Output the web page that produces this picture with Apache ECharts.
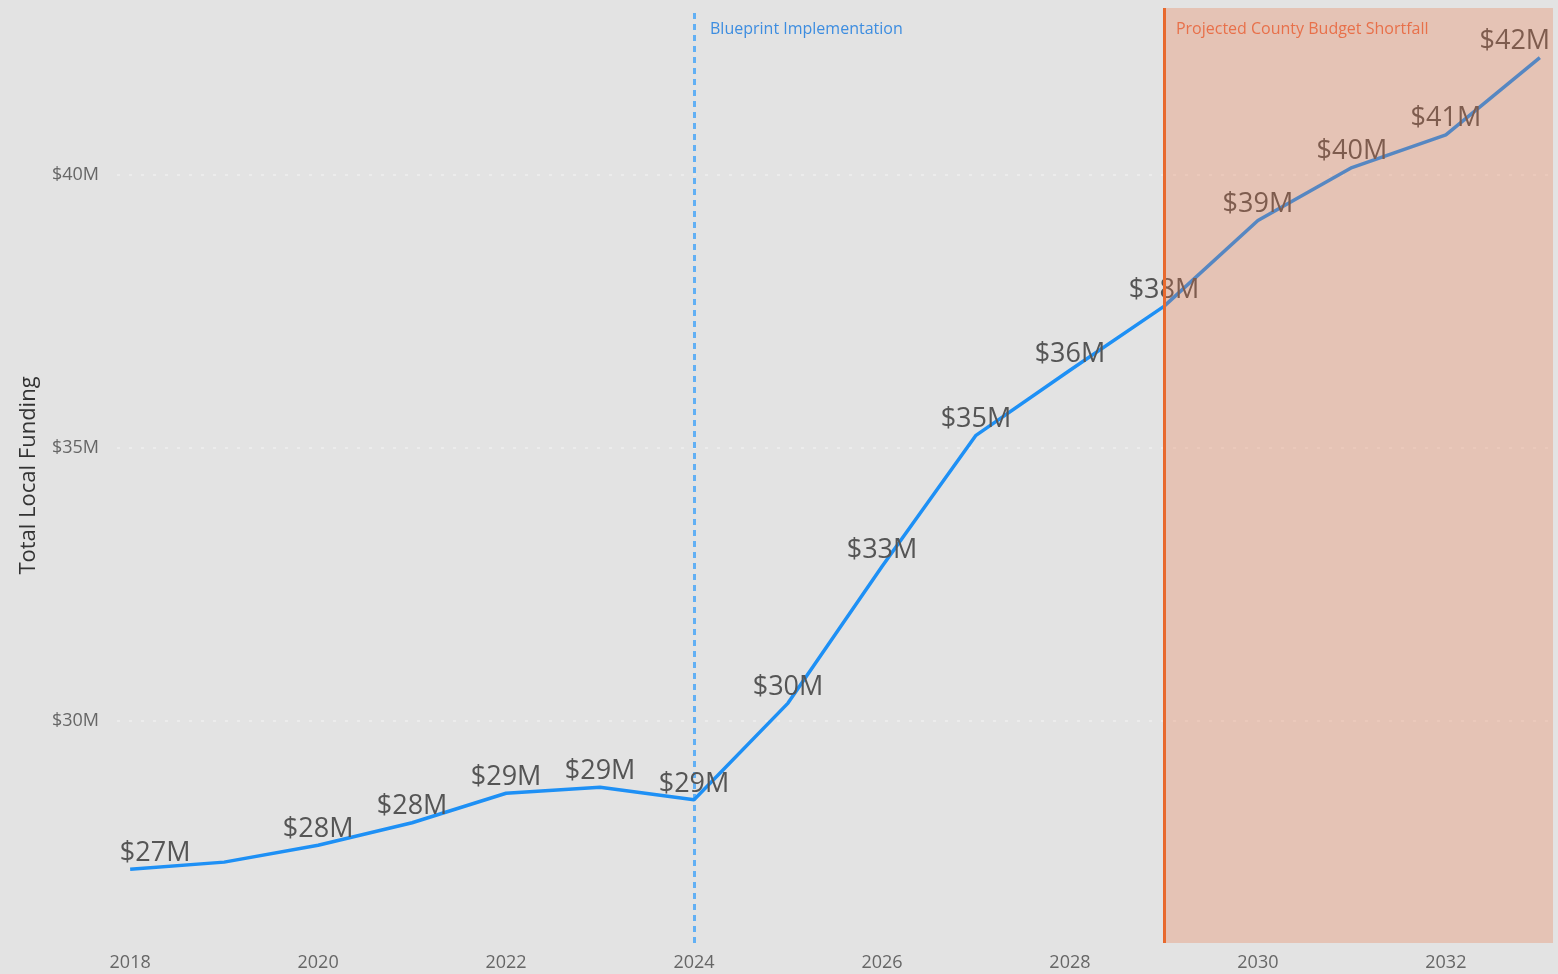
<!DOCTYPE html>
<html>
<head>
<meta charset="utf-8">
<script src="https://cdn.jsdelivr.net/npm/echarts@6/dist/echarts.min.js"></script>
<style>
  html, body { margin: 0; padding: 0; background: #e3e3e3; }
  #chart { width: 1558px; height: 974px; }
</style>
</head>
<body>
<div id="chart"></div>
<script>
  // values, $M per year
  var years = [2018, 2019, 2020, 2021, 2022, 2023, 2024, 2025, 2026, 2027, 2028, 2029, 2030, 2031, 2032, 2033];
  var funding = [27.29, 27.42, 27.73, 28.14, 28.68, 28.79, 28.56, 30.33, 32.83, 35.23, 36.42, 37.59, 39.16, 40.13, 40.73, 42.14];
  var yearTicks = [2018, 2020, 2022, 2024, 2026, 2028, 2030, 2032];
  var fundingTicks = [30, 35, 40];
  var blueprintYear = 2024;
  var shortfallYear = 2029;

  var X_MIN = 2017.86, X_MAX = 2033.14;
  var Y_MIN = 25.94, Y_MAX = 43.05;
  var FONT = '"Open Sans", "Noto Sans", sans-serif';

  var chart = echarts.init(document.getElementById('chart'));

  var lineData = years.map(function (y, i) {
    var item = { value: [y, funding[i]] };
    if (y === 2019) item.label = { show: false };          // hidden in the original
    if (i === 0) item.label = { offset: [25, 0] };          // kept inside the plot
    if (i === years.length - 1) item.label = { offset: [-25, 0] };
    return item;
  });

  var gridLine = { color: '#f0f0f0', width: 1.5, type: [3, 9] };

  chart.setOption({
    backgroundColor: '#e3e3e3',
    animation: false,
    grid: { left: 117, right: 5, top: 8, bottom: 31 },
    xAxis: {
      type: 'value',
      min: X_MIN,
      max: X_MAX,
      axisLine: { show: false },
      axisTick: { show: false },
      splitLine: { show: false },
      axisLabel: {
        customValues: yearTicks,
        formatter: function (v) { return String(v); },
        color: '#666',
        fontSize: 18,
        fontFamily: FONT,
        margin: 11
      }
    },
    yAxis: {
      type: 'value',
      min: Y_MIN,
      max: Y_MAX,
      name: 'Total Local Funding',
      nameLocation: 'middle',
      nameGap: 77,
      nameTextStyle: { color: '#333', fontSize: 22, fontFamily: FONT },
      axisLine: { show: false },
      axisTick: { show: false },
      splitLine: { show: false },
      axisLabel: {
        customValues: fundingTicks,
        formatter: function (v) { return '$' + v + 'M'; },
        color: '#666',
        fontSize: 18,
        fontFamily: FONT,
        margin: 18
      }
    },
    series: [
      {
        type: 'line',
        z: 2,
        data: lineData,
        showSymbol: true,
        symbol: 'circle',
        symbolSize: 1,
        itemStyle: { color: 'rgba(0,0,0,0)' },
        lineStyle: { color: '#1e90f5', width: 3.5 },
        label: {
          show: true,
          position: 'top',
          distance: 2,
          color: '#555',
          fontSize: 27,
          fontFamily: FONT,
          formatter: function (p) { return '$' + Math.round(p.value[1]) + 'M'; }
        },
        markLine: {
          silent: true,
          symbol: 'none',
          z: 1,
          label: { show: false },
          data: [
            // dotted gridlines
            { yAxis: fundingTicks[0], lineStyle: gridLine },
            { yAxis: fundingTicks[1], lineStyle: gridLine },
            { yAxis: fundingTicks[2], lineStyle: gridLine },
            // blueprint marker
            { xAxis: blueprintYear, lineStyle: { color: '#62b0f4', width: 3, type: [6, 5] } }
          ]
        },
        markPoint: {
          silent: true,
          symbol: 'circle',
          symbolSize: 0,
          data: [{ coord: [blueprintYear, Y_MAX] }],
          label: {
            show: true,
            position: 'right',
            offset: [11, 21],
            formatter: 'Blueprint Implementation',
            color: '#3d8de0',
            fontSize: 16,
            fontFamily: FONT
          }
        }
      },
      {
        // shortfall overlay sits on top of the line
        type: 'line',
        z: 3,
        data: [],
        markArea: {
          silent: true,
          z: 10,
          itemStyle: { color: 'rgba(235, 110, 60, 0.28)' },
          label: {
            show: true,
            position: 'insideTopLeft',
            offset: [7, 8],
            color: '#e8704a',
            fontSize: 16,
            fontFamily: FONT
          },
          data: [[{ name: 'Projected County Budget Shortfall', xAxis: shortfallYear }, { xAxis: X_MAX }]]
        }
      },
      {
        // shortfall start line, drawn above the overlay
        type: 'line',
        z: 20,
        zlevel: 1,
        data: [],
        markLine: {
          silent: true,
          symbol: 'none',
          label: { show: false },
          lineStyle: { color: '#e8682a', width: 3, type: 'solid' },
          data: [{ xAxis: shortfallYear }]
        }
      }
    ]
  });
</script>
</body>
</html>
